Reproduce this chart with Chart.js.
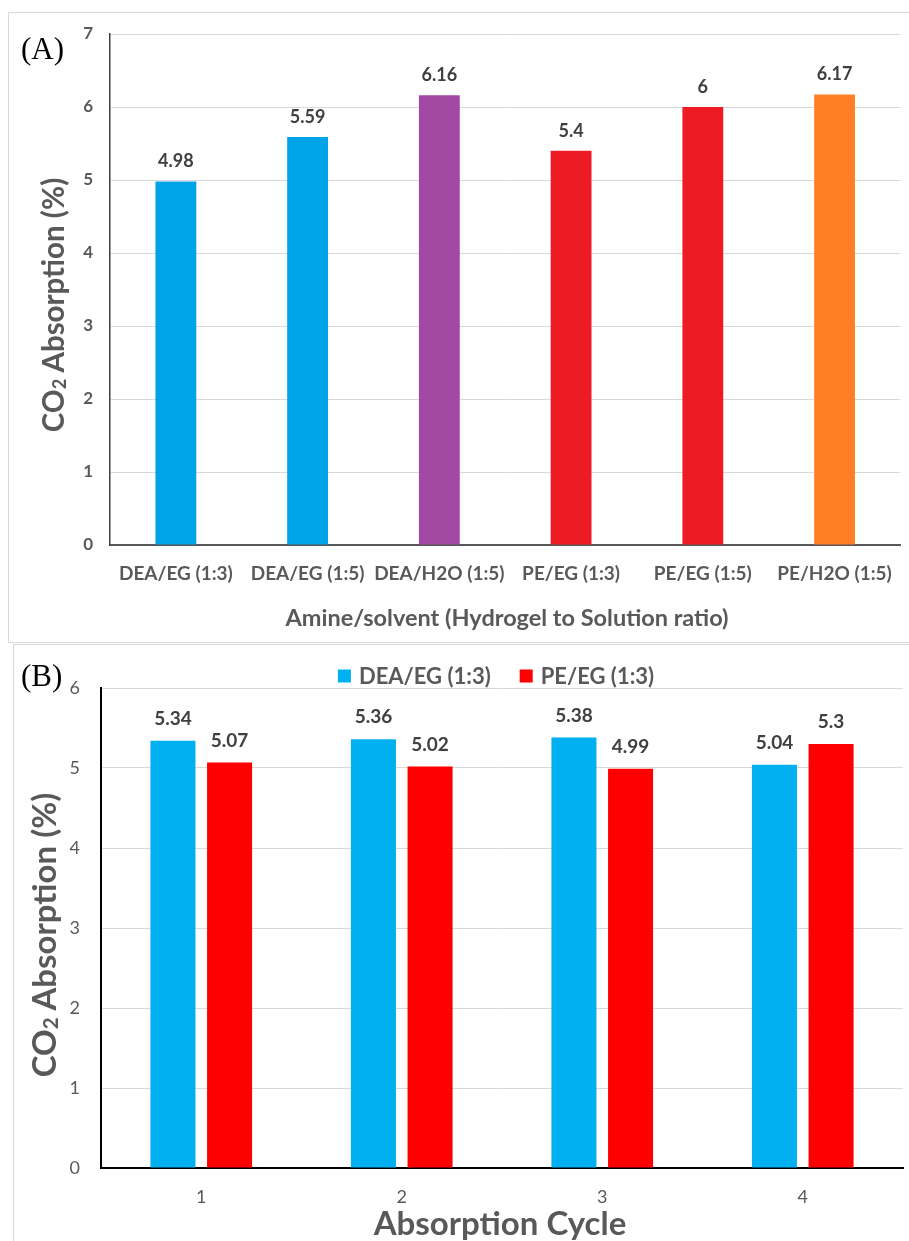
<!DOCTYPE html>
<html>
<head>
<meta charset="utf-8">
<script src="https://cdn.jsdelivr.net/npm/chart.js@4.4.0/dist/chart.umd.min.js"></script>
<style>
  html, body { margin: 0; padding: 0; background: #fff; }
  #page { position: relative; width: 909px; height: 1241px; overflow: hidden; background: #fff; font-family: Lato, "Open Sans", sans-serif; }
  .panel { position: absolute; border: 1.5px solid #d9d9d9; box-sizing: border-box; }
  canvas { position: absolute; left: 0; }
  .tag { position: absolute; font-family: "Liberation Serif", "DejaVu Serif", serif; font-size: 31px; color: #000; line-height: 1; transform: translateY(-50%); }
  .ytitle { position: absolute; font-weight: 700; color: #595959; white-space: nowrap; line-height: 1; transform: translate(-50%, -50%) rotate(-90deg); }
  .xtitle { position: absolute; font-weight: 700; color: #595959; white-space: nowrap; line-height: 1; transform: translate(-50%, -50%); }
  .sub { font-size: 62%; vertical-align: -0.08em; }
</style>
</head>
<body>
<div id="page">
  <div class="panel" style="left:8px; top:12px; width:920px; height:631px;"></div>
  <div class="panel" style="left:13px; top:644px; width:920px; height:620px;"></div>

  <canvas id="chartA" width="909" height="642" style="top:0;"></canvas>
  <canvas id="chartB" width="909" height="597" style="top:644px;"></canvas>

  <div class="tag" style="left:21px; top:48px;">(A)</div>
  <div class="tag" style="left:21px; top:675px;">(B)</div>

  <div class="ytitle" style="left:53px; top:305px; font-size:29.5px;">CO<span class="sub">2</span> Absorption (%)</div>
  <div class="xtitle" style="left:507px; top:618px; font-size:23.5px;">Amine/solvent (Hydrogel to Solution ratio)</div>

  <div class="ytitle" style="left:44px; top:935px; font-size:33px;">CO<span class="sub">2</span> Absorption (%)</div>
  <div class="xtitle" style="left:500px; top:1222px; font-size:33px;">Absorption Cycle</div>
</div>

<script>
// Panel A: absorption by amine/solvent combination
const solventCombos = ['DEA/EG (1:3)', 'DEA/EG (1:5)', 'DEA/H2O (1:5)', 'PE/EG (1:3)', 'PE/EG (1:5)', 'PE/H2O (1:5)'];
const absorptionA = [4.98, 5.59, 6.16, 5.4, 6, 6.17];
const barColorsA = ['#00A2E8', '#00A2E8', '#A349A4', '#ED1C24', '#ED1C24', '#FF7F27'];

// Panel B: absorption over repeated cycles
const cycles = ['1', '2', '3', '4'];
const seriesNamesB = ['DEA/EG (1:3)', 'PE/EG (1:3)'];
const deaCycles = [5.34, 5.36, 5.38, 5.04];
const peCycles = [5.07, 5.02, 4.99, 5.3];

const GRAY = '#595959';
const FAMILY = 'Lato, "Open Sans", sans-serif';
Chart.defaults.font.family = FAMILY;

// Writes each bar's value above it
const valueLabels = {
  id: 'valueLabels',
  afterDatasetsDraw(chart, args, opts) {
    const ctx = chart.ctx;
    ctx.save();
    ctx.font = opts.font;
    ctx.fillStyle = opts.color;
    ctx.textAlign = 'center';
    ctx.textBaseline = 'middle';
    chart.data.datasets.forEach((ds, i) => {
      chart.getDatasetMeta(i).data.forEach((bar, j) => {
        ctx.fillText(String(ds.data[j]), bar.x, bar.y - opts.offset);
      });
    });
    ctx.restore();
  }
};

// Series key: a colour square followed by the dataset label, centred in a row
const seriesKey = {
  id: 'seriesKey',
  afterDraw(chart, args, opts) {
    const ctx = chart.ctx;
    ctx.save();
    ctx.font = opts.font;
    const items = chart.data.datasets.map(ds => ({
      text: ds.label, color: ds.backgroundColor, w: ctx.measureText(ds.label).width
    }));
    const total = items.reduce((s, it) => s + opts.box + opts.gap + it.w, 0) + opts.spacing * (items.length - 1);
    let x = opts.centerX - total / 2;
    ctx.textBaseline = 'middle';
    ctx.textAlign = 'left';
    items.forEach(it => {
      ctx.fillStyle = it.color;
      ctx.fillRect(x, opts.y - opts.box / 2, opts.box, opts.box);
      x += opts.box + opts.gap;
      ctx.fillStyle = opts.color;
      ctx.fillText(it.text, x, opts.y + 1);
      x += it.w + opts.spacing;
    });
    ctx.restore();
  }
};

function build() {
  new Chart(document.getElementById('chartA'), {
    type: 'bar',
    data: {
      labels: solventCombos,
      datasets: [{
        data: absorptionA,
        backgroundColor: barColorsA,
        barPercentage: 0.31,
        categoryPercentage: 1
      }]
    },
    options: {
      responsive: false,
      animation: false,
      devicePixelRatio: 1,
      layout: { padding: { left: 0, right: 2, top: 34, bottom: 0 } },
      plugins: {
        legend: { display: false },
        tooltip: { enabled: false },
        valueLabels: { font: 'bold 18px ' + FAMILY, color: '#404040', offset: 20 }
      },
      scales: {
        x: {
          grid: { display: false, drawTicks: false },
          border: { display: true, color: GRAY, width: 2 },
          ticks: { padding: 17, color: GRAY, font: { size: 19, weight: 'bold' }, maxRotation: 0, autoSkip: false },
          afterFit(s) { s.height = 97; }
        },
        y: {
          min: 0, max: 7,
          grid: { color: '#d9d9d9', lineWidth: 1, drawTicks: false },
          border: { display: true, color: '#404040', width: 1.5 },
          ticks: { stepSize: 1, padding: 17, color: GRAY, font: { size: 17, weight: 'bold' } },
          afterFit(s) { s.width = 110; }
        }
      }
    },
    plugins: [valueLabels]
  });

  new Chart(document.getElementById('chartB'), {
    type: 'bar',
    data: {
      labels: cycles,
      datasets: [
        { label: seriesNamesB[0], data: deaCycles, backgroundColor: '#00B0F0', barPercentage: 0.795, categoryPercentage: 0.565 },
        { label: seriesNamesB[1], data: peCycles, backgroundColor: '#FF0000', barPercentage: 0.795, categoryPercentage: 0.565 }
      ]
    },
    options: {
      responsive: false,
      animation: false,
      devicePixelRatio: 1,
      layout: { padding: { left: 0, right: 6, top: 44, bottom: 0 } },
      plugins: {
        legend: { display: false },
        tooltip: { enabled: false },
        valueLabels: { font: 'bold 19px ' + FAMILY, color: '#404040', offset: 22 },
        seriesKey: { font: 'bold 22px ' + FAMILY, color: GRAY, centerX: 496, y: 32, box: 13, gap: 8, spacing: 29 }
      },
      scales: {
        x: {
          grid: { display: false, drawTicks: false },
          border: { display: true, color: '#000', width: 2 },
          ticks: { padding: 18, color: GRAY, font: { size: 18 } },
          afterFit(s) { s.height = 73; }
        },
        y: {
          min: 0, max: 6,
          grid: { color: '#d9d9d9', lineWidth: 1, drawTicks: false },
          border: { display: true, color: '#000', width: 2 },
          ticks: { stepSize: 1, padding: 21, color: GRAY, font: { size: 18 } },
          afterFit(s) { s.width = 101; }
        }
      }
    },
    plugins: [valueLabels, seriesKey]
  });
}

if (document.fonts && document.fonts.load) {
  Promise.all([
    document.fonts.load('bold 16px Lato'),
    document.fonts.load('16px Lato')
  ]).then(build, build);
} else {
  build();
}
</script>
</body>
</html>
